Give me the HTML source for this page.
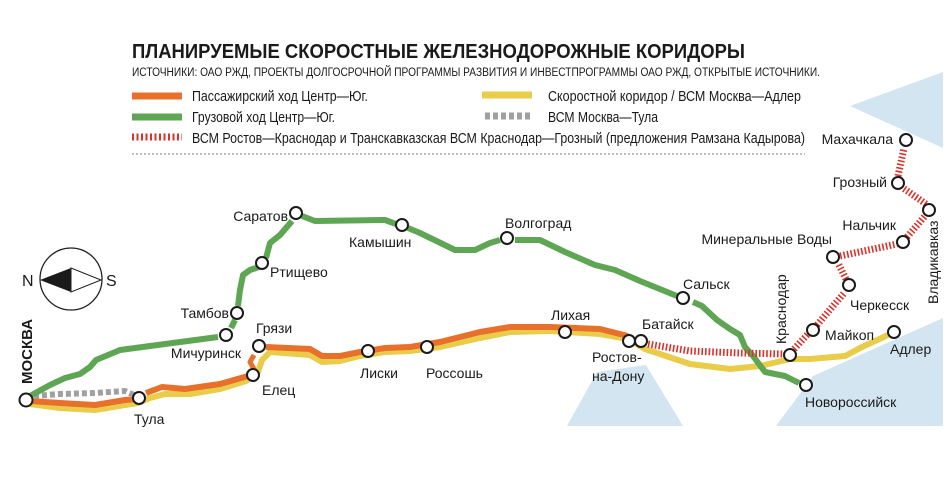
<!DOCTYPE html>
<html><head><meta charset="utf-8"><style>
html,body{margin:0;padding:0;background:#fff}
svg{display:block}
text{font-family:"Liberation Sans",sans-serif;fill:#1a1a1a}
</style></head><body>
<svg width="951" height="500" viewBox="0 0 951 500" xmlns="http://www.w3.org/2000/svg">
<g fill="#d3e5f0">
<polygon points="850,106 943,72 943,148"/>
<polygon points="567,426 597,372 646,365 683,426"/>
<polygon points="776,426 813,376 943,318 943,426"/>
</g>
<text x="132" y="58" font-size="20" font-weight="bold" textLength="613" lengthAdjust="spacingAndGlyphs">ПЛАНИРУЕМЫЕ СКОРОСТНЫЕ ЖЕЛЕЗНОДОРОЖНЫЕ КОРИДОРЫ</text>
<text x="132" y="76" font-size="11.5" textLength="688" lengthAdjust="spacingAndGlyphs">ИСТОЧНИКИ: ОАО РЖД, ПРОЕКТЫ ДОЛГОСРОЧНОЙ ПРОГРАММЫ РАЗВИТИЯ И ИНВЕСТПРОГРАММЫ ОАО РЖД, ОТКРЫТЫЕ ИСТОЧНИКИ.</text>
<line x1="132" y1="96" x2="182" y2="96" stroke="#e8702a" stroke-width="7"/>
<line x1="132" y1="117" x2="182" y2="117" stroke="#5ea654" stroke-width="7"/>
<line x1="132" y1="137" x2="182" y2="137" stroke="#d9322a" stroke-width="7" stroke-dasharray="2,2.5"/>
<line x1="482" y1="95" x2="532" y2="95" stroke="#e8cc4a" stroke-width="7"/>
<line x1="485" y1="116" x2="532" y2="116" stroke="#a0a0a0" stroke-width="7" stroke-dasharray="5,3"/>
<text x="192" y="101" font-size="14.5" textLength="176" lengthAdjust="spacingAndGlyphs">Пассажирский ход Центр—Юг.</text>
<text x="192" y="122" font-size="14.5" textLength="143" lengthAdjust="spacingAndGlyphs">Грузовой ход Центр—Юг.</text>
<text x="192" y="143" font-size="14.5" textLength="613" lengthAdjust="spacingAndGlyphs">ВСМ Ростов—Краснодар и Транскавказская ВСМ Краснодар—Грозный (предложения Рамзана Кадырова)</text>
<text x="548" y="101" font-size="14.5" textLength="253" lengthAdjust="spacingAndGlyphs">Скоростной коридор / ВСМ Москва—Адлер</text>
<text x="548" y="122" font-size="14.5" textLength="110" lengthAdjust="spacingAndGlyphs">ВСМ Москва—Тула</text>
<line x1="132" y1="154" x2="805" y2="154" stroke="#999" stroke-width="1.2" stroke-dasharray="2,2"/>
<circle cx="71" cy="279" r="31" fill="none" stroke="#222" stroke-width="1.3"/>
<polygon points="40,280 71,268 71,292" fill="#1a1a1a"/>
<polygon points="71,268 101,280 71,292" fill="#fff" stroke="#222" stroke-width="1"/>
<text x="22" y="286" font-size="16">N</text>
<text x="106" y="286" font-size="16">S</text>
<g fill="none" stroke-linejoin="round" stroke-linecap="butt">
<polyline stroke="#e8cc4a" stroke-width="6" points="30,404 60,408 95,410 125,405 138,403 150,398 165,394 190,394 220,389 246,381 258,372 262,360 270,352 310,355 322,362 340,361 360,356 385,352 410,351 440,347 480,338 510,332 550,331 600,334 628,339 645,349 690,364 730,369 760,366 790,359 810,359 845,356 862,347 888,335"/>
<polyline stroke="#e8702a" stroke-width="6" points="30,401 60,403 95,405 125,400 138,399"/>
<polyline stroke="#e8702a" stroke-width="6" points="146,393 162,387 185,389 220,384 248,376"/>
<polyline stroke="#e8702a" stroke-width="5" points="255,371 250,362 254,355"/>
<polyline stroke="#e8702a" stroke-width="6" points="266,347 310,349 322,356 340,356 360,352 385,348 410,347 440,342 480,332 510,327 550,327 600,329 628,336"/>
<polyline stroke="#a0a0a0" stroke-width="6" stroke-dasharray="5,3" points="34,396 60,394 95,393 125,391 134,395"/>
<polyline stroke="#5ea654" stroke-width="6" points="30,396 50,385 65,378 80,374 90,367 96,360 108,355 120,350 135,348 218,337"/>
<polyline stroke="#5ea654" stroke-width="6" points="231,328 235,320"/>
<polyline stroke="#5ea654" stroke-width="6" points="238,306 240,290 243,275 250,270 259,267"/>
<polyline stroke="#5ea654" stroke-width="6" points="266,258 270,243 280,235 292,221"/>
<polyline stroke="#5ea654" stroke-width="6" points="302,216 315,221 385,220 396,224"/>
<polyline stroke="#5ea654" stroke-width="6" points="408,228 420,233 455,250 475,250 490,243 500,240"/>
<polyline stroke="#5ea654" stroke-width="6" points="515,240 540,240 565,252 595,265 615,270 640,281 677,296"/>
<polyline stroke="#5ea654" stroke-width="6" points="693,302 702,306 717,320 730,329 740,335 745,347 753,356 765,372 785,376 799,383"/>
<g stroke="#d9322a" stroke-width="7" stroke-dasharray="1.6,2">
<polyline points="648,344 690,351 740,353 784,354"/>
<polyline points="794,349 808,334"/>
<polyline points="817,325 845,292"/>
<polyline points="846,279 838,263"/>
<polyline points="840,256 897,244"/>
<polyline points="907,237 925,216"/>
<polyline points="926,204 903,188"/>
<polyline points="898,176 904,148"/>
</g>
</g>
<g fill="#fff" stroke="#1a1a1a" stroke-width="2">
<circle cx="26" cy="400" r="6.5"/><circle cx="139" cy="398" r="6"/><circle cx="253" cy="375" r="6"/><circle cx="259" cy="346" r="6"/>
<circle cx="226" cy="335" r="6"/><circle cx="237" cy="313" r="6"/><circle cx="262" cy="263" r="6"/><circle cx="296" cy="213" r="6"/>
<circle cx="402" cy="225" r="6"/><circle cx="507" cy="238" r="6"/><circle cx="683" cy="298" r="6"/><circle cx="368" cy="351" r="6"/>
<circle cx="427" cy="347" r="6"/><circle cx="565" cy="332" r="6"/><circle cx="629" cy="341" r="6"/><circle cx="641" cy="341" r="6"/>
<circle cx="790" cy="355" r="6"/><circle cx="806" cy="385" r="6"/><circle cx="813" cy="330" r="6"/><circle cx="849" cy="285" r="6"/>
<circle cx="833" cy="257" r="6"/><circle cx="903" cy="242" r="6"/><circle cx="929" cy="210" r="6"/><circle cx="898" cy="183" r="6"/>
<circle cx="906" cy="140" r="6"/><circle cx="894" cy="332" r="6"/>
</g>
<g font-size="14">
<text x="32" y="384" font-size="15" font-weight="bold" transform="rotate(-90 32 384)">МОСКВА</text>
<text x="134" y="424">Тула</text>
<text x="262" y="395">Елец</text>
<text x="256" y="333">Грязи</text>
<text x="241" y="358" text-anchor="end">Мичуринск</text>
<text x="229" y="318" text-anchor="end">Тамбов</text>
<text x="270" y="277">Ртищево</text>
<text x="288" y="221" text-anchor="end">Саратов</text>
<text x="349" y="247">Камышин</text>
<text x="505" y="228">Волгоград</text>
<text x="683" y="289">Сальск</text>
<text x="360" y="378">Лиски</text>
<text x="426" y="378">Россошь</text>
<text x="551" y="320">Лихая</text>
<text x="642" y="329">Батайск</text>
<text x="592" y="362">Ростов-</text>
<text x="592" y="381">на-Дону</text>
<text x="805" y="407">Новороссийск</text>
<text x="825" y="340">Майкоп</text>
<text x="850" y="310">Черкесск</text>
<text x="832" y="244" text-anchor="end">Минеральные Воды</text>
<text x="896" y="230" text-anchor="end">Нальчик</text>
<text x="887" y="187" text-anchor="end">Грозный</text>
<text x="893" y="144" text-anchor="end">Махачкала</text>
<text x="890" y="354">Адлер</text>
<text x="786" y="344" transform="rotate(-90 786 344)">Краснодар</text>
<text x="938" y="304" transform="rotate(-90 938 304)">Владикавказ</text>
</g>
</svg>
</body></html>
